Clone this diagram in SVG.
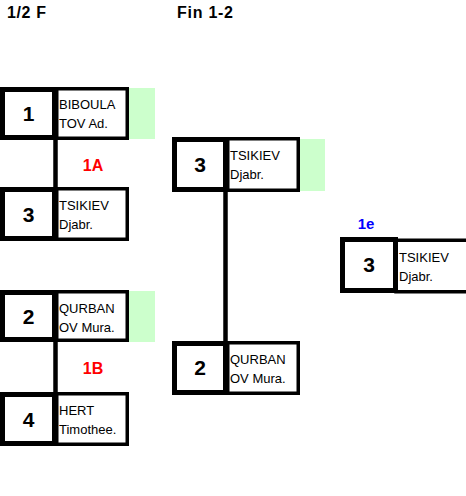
<svg xmlns="http://www.w3.org/2000/svg" width="466" height="496" viewBox="0 0 466 496">
<style>
.num{fill:#fff;stroke:#000;stroke-width:5}
.name{fill:#fff;stroke:#000;stroke-width:3.5}
.win{fill:#CCFFCC}
.d{font-family:"Liberation Sans",Arial,sans-serif;font-weight:bold;font-size:21px;text-anchor:middle;fill:#000}
.t{font-family:"Liberation Sans",Arial,sans-serif;font-size:13px;fill:#000}
.h{font-family:"Liberation Sans",Arial,sans-serif;font-weight:bold;font-size:16px;fill:#000}
.lbl{font-family:"Liberation Sans",Arial,sans-serif;font-weight:bold;font-size:16px;text-anchor:middle}
.conn{stroke:#000;stroke-width:4.5;fill:none}
</style>
<rect width="466" height="496" fill="#fff"/>
<text class="h" x="7" y="18" textLength="39" lengthAdjust="spacing">1/2 F</text>
<text class="h" x="177" y="18" textLength="56" lengthAdjust="spacing">Fin 1-2</text>

<g id="connectors">
<line class="conn" x1="55.5" y1="138" x2="55.5" y2="189"/>
<line class="conn" x1="55.5" y1="340" x2="55.5" y2="394"/>
<line class="conn" x1="225.5" y1="190" x2="225.5" y2="343"/>
</g>

<g id="m1-p1">
<rect class="win" x="129" y="88" width="26" height="51"/>
<rect class="name" x="56.75" y="88.75" width="70.5" height="49.5"/>
<rect class="num" x="2.5" y="89.5" width="52" height="48"/>
<text class="d" x="28.5" y="121">1</text>
<text class="t" x="59" y="109">BIBOULA</text>
<text class="t" x="59" y="128">TOV Ad.</text>
</g>

<g id="m1-p2">
<rect class="name" x="56.75" y="188.75" width="70.5" height="50.5"/>
<rect class="num" x="2.5" y="189.5" width="52" height="49"/>
<text class="d" x="28.5" y="222">3</text>
<text class="t" x="59" y="210">TSIKIEV</text>
<text class="t" x="59" y="229">Djabr.</text>
</g>

<text class="lbl" x="93" y="171" fill="#FF0000">1A</text>

<g id="m2-p1">
<rect class="win" x="129" y="291" width="26" height="51"/>
<rect class="name" x="56.75" y="291.75" width="70.5" height="48.5"/>
<rect class="num" x="2.5" y="292.5" width="52" height="47"/>
<text class="d" x="28.5" y="324">2</text>
<text class="t" x="59" y="313">QURBAN</text>
<text class="t" x="59" y="332">OV Mura.</text>
</g>

<g id="m2-p2">
<rect class="name" x="56.75" y="393.75" width="70.5" height="50.5"/>
<rect class="num" x="2.5" y="394.5" width="52" height="49"/>
<text class="d" x="28.5" y="427">4</text>
<text class="t" x="59" y="415">HERT</text>
<text class="t" x="59" y="434">Timothee.</text>
</g>

<text class="lbl" x="93" y="374" fill="#FF0000">1B</text>

<g id="f-p1">
<rect class="win" x="300" y="139" width="25" height="52"/>
<rect class="name" x="227.75" y="138.75" width="70.5" height="51.5"/>
<rect class="num" x="174.5" y="139.5" width="51" height="50"/>
<text class="d" x="200" y="172">3</text>
<text class="t" x="230" y="160">TSIKIEV</text>
<text class="t" x="230" y="179">Djabr.</text>
</g>

<g id="f-p2">
<rect class="name" x="227.75" y="342.75" width="70.5" height="50.5"/>
<rect class="num" x="174.5" y="343.5" width="51" height="49"/>
<text class="d" x="200" y="375">2</text>
<text class="t" x="230" y="364">QURBAN</text>
<text class="t" x="230" y="383">OV Mura.</text>
</g>

<text class="lbl" x="366" y="229" fill="#0000FF" style="font-size:15px">1e</text>

<g id="winner">
<rect class="name" x="396" y="240.25" width="80" height="51.5"/>
<rect class="num" x="342.5" y="239.5" width="53" height="51"/>
<text class="d" x="369" y="272">3</text>
<text class="t" x="399" y="262">TSIKIEV</text>
<text class="t" x="399" y="281">Djabr.</text>
</g>
</svg>
